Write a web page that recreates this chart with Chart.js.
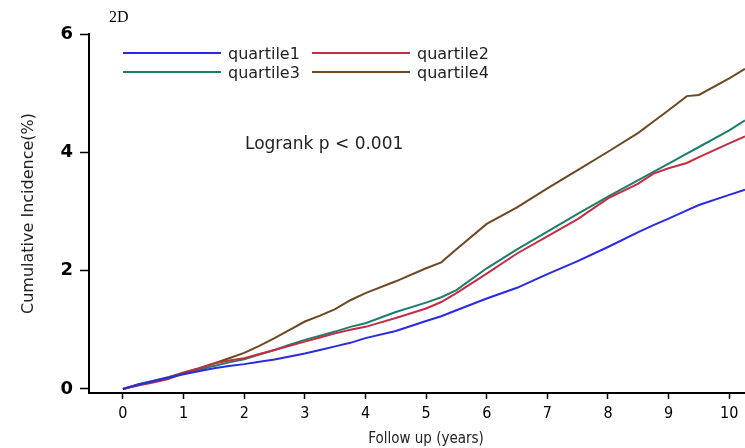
<!DOCTYPE html>
<html>
<head>
<meta charset="utf-8">
<script src="https://cdn.jsdelivr.net/npm/chart.js@4"></script>
<style>
  html, body { margin: 0; padding: 0; background: #fff; }
  #wrap { width: 745px; height: 448px; position: relative; }
</style>
</head>
<body>
<div id="wrap"><canvas id="chart"></canvas></div>
<script>
// follow-up time (years) and cumulative incidence (%) per quartile
const years = [0, 0.25, 0.5, 0.75, 1, 1.25, 1.5, 1.75, 2, 2.25, 2.5, 2.75, 3, 3.25, 3.5, 3.75, 4, 4.5, 5, 5.25, 5.5, 6, 6.5, 7, 7.5, 8, 8.5, 8.75, 9, 9.3, 9.5, 10, 10.26];
const quartile1 = [0, 0.07, 0.13, 0.19, 0.25, 0.30, 0.35, 0.39, 0.42, 0.46, 0.50, 0.55, 0.60, 0.66, 0.72, 0.78, 0.86, 0.98, 1.15, 1.23, 1.33, 1.53, 1.71, 1.94, 2.16, 2.40, 2.65, 2.77, 2.88, 3.02, 3.11, 3.28, 3.37];
const quartile2 = [0, 0.06, 0.11, 0.17, 0.27, 0.34, 0.43, 0.48, 0.52, 0.59, 0.66, 0.73, 0.80, 0.87, 0.94, 1.00, 1.05, 1.20, 1.36, 1.47, 1.62, 1.95, 2.29, 2.58, 2.87, 3.22, 3.47, 3.64, 3.73, 3.82, 3.92, 4.15, 4.27];
const quartile3 = [0, 0.08, 0.14, 0.20, 0.26, 0.32, 0.39, 0.45, 0.50, 0.58, 0.66, 0.75, 0.83, 0.90, 0.97, 1.05, 1.11, 1.30, 1.46, 1.55, 1.67, 2.04, 2.36, 2.66, 2.96, 3.25, 3.53, 3.67, 3.81, 3.98, 4.09, 4.37, 4.54];
const quartile4 = [0, 0.07, 0.13, 0.20, 0.28, 0.35, 0.43, 0.52, 0.61, 0.73, 0.86, 1.00, 1.14, 1.24, 1.35, 1.50, 1.62, 1.82, 2.04, 2.14, 2.36, 2.79, 3.07, 3.39, 3.70, 4.01, 4.33, 4.52, 4.71, 4.95, 4.97, 5.25, 5.41];

const seriesNames = ["quartile1", "quartile2", "quartile3", "quartile4"];
const seriesValues = [quartile1, quartile2, quartile3, quartile4];
const seriesColors = ["#2a2ae2", "#c42d44", "#1d7e6c", "#6e4822"];

const xTicks = [0, 1, 2, 3, 4, 5, 6, 7, 8, 9, 10];
const yTicks = [0, 2, 4, 6];

const SANS = "'DejaVu Sans', Verdana, sans-serif";
const SANS_NARROW = "'DejaVu Sans Condensed', 'DejaVu Sans', sans-serif";

function toPoints(values) {
  return values.map((v, i) => ({ x: years[i], y: v }));
}

// legend in two columns, panel tag, logrank note and x title
const annotationsPlugin = {
  id: "annotations",
  afterDraw(chart) {
    const { ctx, chartArea } = chart;
    ctx.save();
    ctx.fillStyle = "#000";
    ctx.textBaseline = "middle";
    ctx.textAlign = "left";

    ctx.font = "16px 'Liberation Serif', 'DejaVu Serif', serif";
    ctx.fillText("2D", 109, 18);

    // legend
    const colX = [chartArea.left + 34, chartArea.left + 223];
    const rowY = [53, 72];
    ctx.font = "16px " + SANS;
    seriesNames.forEach((name, i) => {
      const x = colX[i % 2];
      const y = rowY[Math.floor(i / 2)];
      ctx.strokeStyle = seriesColors[i];
      ctx.lineWidth = 2;
      ctx.beginPath();
      ctx.moveTo(x, y);
      ctx.lineTo(x + 98, y);
      ctx.stroke();
      ctx.fillStyle = "#222";
      ctx.fillText(name, x + 105, y + 2);
    });

    ctx.fillStyle = "#222";
    ctx.font = "17px " + SANS;
    ctx.fillText("Logrank p < 0.001", 245, 145);

    ctx.textAlign = "center";
    ctx.font = "15px " + SANS_NARROW;
    ctx.fillText("Follow up (years)", 426, 439);
    ctx.restore();
  },
};

new Chart(document.getElementById("chart"), {
  type: "line",
  data: {
    datasets: seriesNames.map((name, i) => ({
      label: name,
      data: toPoints(seriesValues[i]),
      borderColor: seriesColors[i],
      backgroundColor: "transparent",
      borderWidth: 2,
      pointRadius: 0,
      tension: 0,
    })),
  },
  options: {
    responsive: true,
    maintainAspectRatio: false,
    animation: false,
    layout: { padding: { top: 34, right: 0, left: 0, bottom: 0 } },
    plugins: { legend: { display: false }, tooltip: { enabled: false } },
    scales: {
      x: {
        type: "linear",
        min: -0.56,
        max: 10.26,
        afterBuildTicks: (scale) => { scale.ticks = xTicks.map((v) => ({ value: v })); },
        afterFit: (scale) => { scale.height = 55; },
        border: { color: "#000", width: 2 },
        grid: { drawOnChartArea: false, drawTicks: true, tickLength: 6, tickColor: "#000", tickWidth: 1.5 },
        ticks: { color: "#000", padding: 5, maxRotation: 0, font: { family: SANS_NARROW, size: 16 } },
      },
      y: {
        min: -0.068,
        max: 6,
        afterBuildTicks: (scale) => { scale.ticks = yTicks.map((v) => ({ value: v })); },
        afterFit: (scale) => { scale.width = 89; },
        border: { color: "#000", width: 2 },
        grid: { drawOnChartArea: false, drawTicks: true, tickLength: 9, tickColor: "#000", tickWidth: 1.5 },
        ticks: { color: "#000", padding: 7, font: { family: SANS, size: 18, weight: "bold" } },
        title: {
          display: true,
          text: "Cumulative Incidence(%)",
          color: "#222",
          padding: { top: 19, bottom: 0 },
          font: { family: SANS, size: 16 },
        },
      },
    },
  },
  plugins: [annotationsPlugin],
});
</script>
</body>
</html>
